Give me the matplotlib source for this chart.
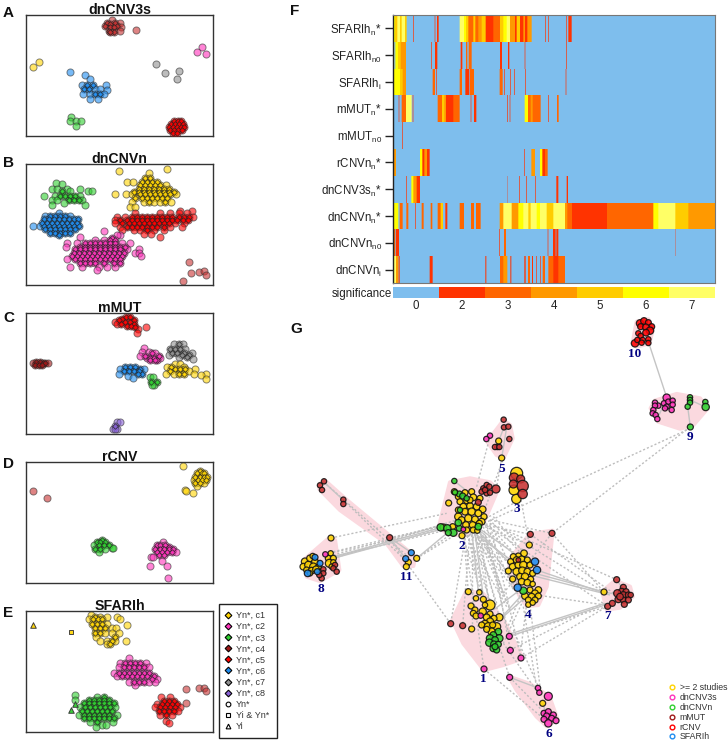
import matplotlib
matplotlib.use("Agg")
import numpy as np
import matplotlib.pyplot as plt
from matplotlib.colors import ListedColormap, BoundaryNorm
from matplotlib.lines import Line2D
from matplotlib.collections import LineCollection

plt.rcParams['font.family'] = ['Liberation Sans', 'DejaVu Sans']
plt.rcParams['mathtext.fontset'] = 'custom'
plt.rcParams['mathtext.rm'] = 'Liberation Sans'
plt.rcParams['mathtext.default'] = 'regular'

W, H = 728, 744
fig = plt.figure(figsize=(W / 100, H / 100), dpi=100)

def ax_px(x0, y0, x1, y1, **kw):
    return fig.add_axes([x0 / W, 1 - y1 / H, (x1 - x0) / W, (y1 - y0) / H], **kw)

def fig_text(x, y, s, **kw):
    return fig.text(x / W, 1 - y / H, s, **kw)

# ------------------------------------------------------------------ colours
YEL, MAG, GRN, BRN, RED, BLU, GRY, PUR = ('#FFD400', '#FF33BB', '#2FD02F', '#C83232',
                                          '#FF0000', '#1E8CF0', '#909090', '#8A62D8')
DRK = '#A01818'

# ------------------------------------------------------------------ panel data (rows: y, [x...])
A_brown = [(60, [335]), (68, [320, 345, 358]), (72, [330]), (78, [315, 350]), (82, [328, 340, 362]),
           (89, [406]), (92, [325, 360]), (96, [342, 330])]
A_magenta = [(141, [605]), (157, [591]), (162, [617])]
A_yellow = [(185, [116]), (201, [98])]
A_gray = [(192, [467]), (218, [494]), (214, [535]), (236, [531])]
A_blue = [(216, [209]), (224, [254]), (238, [268]), (254, [245, 260, 278, 318]), (266, [250, 265, 285, 300]),
          (270, [320]), (283, [248, 270, 285, 300, 310]), (296, [292, 268])]
A_green = [(350, [212]), (362, [208, 227, 243]), (378, [226])]
A_red = [(362, [520, 532, 542]), (371, [512, 524, 536, 548]), (380, [505, 518, 530, 542, 552]),
         (390, [510, 522, 534, 546]), (398, [518, 530])]

B_yellow = [(506, [501]), (512, [356]), (520, [445]), (533, [435, 450]), (547, [380, 397, 425, 440, 455, 470]),
            (556, [420, 435, 450, 465, 480, 497]), (566, [415, 430, 445, 460, 475, 490, 505]),
            (575, [400, 415, 430, 445, 460, 475, 490, 505, 520]),
            (581, [343, 378, 395, 420, 435, 450, 465, 480, 495, 510, 527]),
            (594, [405, 425, 440, 455, 470, 485, 500]), (605, [395, 430, 445, 460, 480, 495, 512]),
            (620, [388, 405])]
B_green = [(548, [166]), (552, [186]), (568, [155, 170, 200, 240]), (574, [185, 210, 263, 275]),
           (588, [130, 165, 180, 195, 210, 225, 240]), (600, [155, 170, 205, 220, 235, 245]),
           (608, [190]), (614, [155, 254])]
B_blue = [(640, [175]), (648, [135, 150, 165, 180, 195, 210]), (658, [130, 145, 160, 175, 190, 205, 220, 232]),
          (668, [125, 140, 155, 170, 185, 200, 215, 230]), (677, [98, 118, 130, 145, 160, 175, 190, 205, 220, 235]),
          (688, [135, 150, 165, 180, 195, 210, 225]), (698, [150, 165, 180, 195, 210]), (704, [175])]
B_red = [(632, [575, 540]), (640, [405, 480, 510, 535, 560]),
         (650, [350, 375, 395, 410, 425, 440, 455, 470, 485, 500, 515, 535, 550, 565, 578]),
         (660, [345, 360, 380, 395, 410, 425, 440, 455, 470, 485, 500, 515, 530, 548, 562]),
         (670, [345, 365, 385, 400, 415, 430, 445, 460, 475, 490, 505, 525, 550]),
         (680, [360, 380, 395, 410, 425, 440, 455, 470, 490, 510, 545]), (690, [365, 400, 420, 440, 460, 490]),
         (703, [432, 452]), (711, [478])]
B_magenta = [(692, [310]), (706, [360, 350]), (710, [240]), (715, [335]), (720, [285, 310, 330, 345]),
             (728, [230, 200, 255, 270, 285, 300, 315, 330, 345, 365, 388]),
             (740, [198, 240, 255, 270, 285, 300, 315, 330, 345, 360, 375]),
             (748, [225, 240, 255, 270, 285, 300, 315, 330, 345, 360, 380, 417]),
             (758, [220, 235, 250, 265, 280, 295, 310, 325, 340, 355, 370, 405, 415]),
             (768, [215, 230, 245, 260, 275, 290, 305, 320, 335, 350, 365, 422]),
             (778, [200, 225, 240, 255, 270, 285, 300, 315, 330, 345, 360]),
             (790, [240, 255, 270, 285, 310, 340, 358]), (801, [208, 245, 295, 320, 345]), (810, [290])]
B_brown = [(787, [567]), (819, [573]), (815, [595]), (813, [612]), (824, [617]), (842, [548])]

C_red = [(52, [378, 390]), (56, [365]), (60, [355, 400]), (65, [345, 375, 388]), (71, [350, 362, 400]),
         (78, [380, 392]), (82, [405, 437]), (86, [412]), (98, [410])]
C_magenta = [(145, [432]), (155, [425, 445]), (160, [455, 465]), (167, [420, 435, 475]),
             (175, [440, 450, 460, 480]), (181, [450, 470, 465])]
C_gray = [(133, [520, 535, 548]), (147, [510, 525, 540, 555]), (159, [515, 530, 552, 575]),
          (166, [505, 545, 565]), (172, [535, 560]), (178, [578])]
C_yellow = [(192, [525, 540]), (200, [512, 500, 550]), (208, [525, 540, 555, 585]), (214, [510, 565]),
            (222, [497, 520, 535, 550, 582, 617]), (226, [602]), (236, [616])]
C_blue = [(200, [375, 390, 405]), (206, [358, 420, 432]), (214, [370, 385, 400, 415]),
          (222, [355, 425, 412]), (228, [382]), (235, [398])]
C_green = [(232, [448, 458]), (246, [470, 452]), (256, [460, 455])]
C_darkred = [(185, [108, 118]), (190, [98, 128, 135, 142]), (196, [105, 115, 125])]
C_purple = [(367, [351, 360]), (378, [345]), (387, [337, 350, 345])]

D_yellow = [(499, [548]), (513, [600]), (520, [590, 605, 612]), (530, [585, 598, 610, 620]),
            (540, [580, 592, 605, 618]), (550, [585, 598, 610]), (558, [590]), (570, [553]),
            (574, [558]), (578, [578])]
D_brown = [(572, [98]), (593, [141])]
D_green = [(720, [305]), (727, [290, 300, 315]), (736, [280, 295, 310, 325]),
           (743, [335, 337]), (747, [285, 300, 315]), (755, [295])]
D_magenta = [(725, [487]), (735, [470, 480, 495]), (741, [505]), (746, [465, 478, 490, 505, 518]),
             (757, [470, 485, 500, 515, 527]), (766, [475, 490]), (772, [452, 458]), (783, [484]),
             (797, [449, 499]), (835, [503])]

E_yellow = [(945, [272]), (951, [285, 300, 320, 350]), (958, [265, 278, 292, 305, 358]),
            (971, [275, 290, 305, 320]), (976, [380]), (985, [285, 300, 315, 335, 348]),
            (998, [285, 300, 315, 335, 355]), (1010, [287, 345]), (1022, [300, 320, 335, 345, 378]),
            (1031, [320, 330])]
E_yellow_sq = [(997, [212])]
E_yellow_tri = [(975, [98])]
E_magenta = [(1075, [386]), (1089, [360, 375, 390, 405, 420, 437]), (1102, [355, 370, 385, 400, 415, 430, 445]),
             (1118, [340, 355, 370, 385, 400, 415, 430, 445]), (1129, [350, 365, 380, 395, 410, 425, 440, 460]),
             (1138, [455, 470]), (1146, [385, 400, 415, 430, 445, 465]), (1155, [405])]
E_green = [(1185, [225]), (1192, [290, 310]), (1201, [225, 265, 280, 295, 310, 325]),
           (1210, [250, 265, 280, 295, 310, 325, 340]), (1220, [240, 255, 270, 285, 300, 315, 330, 345]),
           (1232, [245, 260, 275, 290, 305, 320, 335]), (1245, [235, 250, 265, 280, 295, 310, 325, 350]),
           (1255, [250, 265, 280, 295, 310, 325, 340]), (1265, [270, 290, 338]), (1275, [305, 318]), (1282, [288])]
E_green_tri = [(1212, [225]), (1230, [212])]
E_red = [(1192, [482, 510]), (1202, [490, 505, 520]), (1212, [470, 485, 500, 515, 530]),
         (1222, [465, 480, 495, 510, 525, 540]), (1232, [475, 490, 505, 520, 533]), (1245, [478, 497, 515]),
         (1262, [497]), (1270, [507])]
E_brown = [(1163, [595, 612]), (1168, [557]), (1172, [617]), (1208, [557])]

PANELS = [
    ('A', 'dnCNV3s', 15, 136, 45, 408, 17, [(A_brown, BRN), (A_magenta, MAG), (A_yellow, YEL), (A_gray, GRY),
                                            (A_blue, BLU), (A_green, GRN), (A_red, RED)]),
    ('B', 'dnCNVn', 164, 285, 492, 855, 167, [(B_yellow, YEL), (B_green, GRN), (B_blue, BLU), (B_red, RED),
                                              (B_magenta, MAG), (B_brown, BRN)]),
    ('C', 'mMUT', 313, 434, 39, 402, 322, [(C_red, RED), (C_magenta, MAG), (C_gray, GRY), (C_yellow, YEL),
                                           (C_blue, BLU), (C_green, GRN), (C_darkred, DRK), (C_purple, PUR)]),
    ('D', 'rCNV', 462, 583, 486, 849, 468, [(D_yellow, YEL), (D_brown, BRN), (D_green, GRN), (D_magenta, MAG)]),
    ('E', 'SFARIh', 611, 732, 933, 1296, 617, [(E_yellow, YEL), (E_magenta, MAG), (E_green, GRN), (E_red, RED), (E_brown, BRN)]),
]

def expand(rows):
    return [(x, y) for y, xs in rows for x in xs]

def dots(ax, rows, color, marker='o', s=26, alpha=0.6):
    p = np.array(expand(rows), float)
    ax.scatter(p[:, 0], p[:, 1], s=s, marker=marker, color=color, alpha=alpha,
               edgecolors='#333333', linewidths=0.7, zorder=3)
    if marker == 'o' and len(p) > 5:
        # crowded points are the cluster cores: small solid diamonds on top
        d = np.hypot(*(p[:, None, :] - p[None, :, :]).transpose(2, 0, 1))
        core = (d < 20).sum(axis=1) >= 5
        if core.any():
            ax.scatter(p[core, 0], p[core, 1], s=8, marker='D', color=color, alpha=0.9,
                       edgecolors='#222222', linewidths=0.5, zorder=4)

last_ax = None
for letter, title, y0, y1, zy0, zy1, base, groups in PANELS:
    ax = ax_px(26, y0, 213, y1)
    ax.set_xlim(77, 638)
    ax.set_ylim(zy1, zy0)
    ax.set_xticks([]); ax.set_yticks([])
    for sp in ax.spines.values():
        sp.set_linewidth(1.0); sp.set_color('#333333')
    for rows, c in groups:
        dots(ax, rows, c)
    fig_text(119.5, y0 - 1, title, ha='center', va='baseline', fontsize=10.2, fontweight='bold', color='#111111')
    fig_text(3, base, letter, ha='left', va='baseline', fontsize=11, fontweight='bold', color='#111111')
    last_ax = ax

dots(last_ax, E_yellow_sq, YEL, marker='s', s=8, alpha=0.9)
dots(last_ax, E_yellow_tri, YEL, marker='^', s=16, alpha=0.95)
dots(last_ax, E_green_tri, GRN, marker='^', s=16, alpha=0.95)

# legend of panel E
E_labels = ['Yn*, c1', 'Yn*, c2', 'Yn*, c3', 'Yn*, c4', 'Yn*, c5', 'Yn*, c6', 'Yn*, c7', 'Yn*, c8',
            'Yn*', 'Yi & Yn*', 'Yi']
E_colors = [YEL, MAG, GRN, DRK, RED, BLU, GRY, PUR, 'white', 'white', 'white']
E_marks = ['D'] * 8 + ['o', 's', '^']
handles = [Line2D([], [], linestyle='none', marker=m, markersize=3.4, markerfacecolor=c,
                  markeredgecolor='black', markeredgewidth=0.8, label=l)
           for l, c, m in zip(E_labels, E_colors, E_marks)]
leg = fig.legend(handles=handles, loc='upper left', bbox_to_anchor=(219 / W, 1 - 604 / H), borderaxespad=0,
                 fontsize=6.5, labelspacing=0.23, handletextpad=0.8, handlelength=0.3, borderpad=0.8,
                 frameon=True, fancybox=False, framealpha=1)
leg.get_frame().set_edgecolor('#222222'); leg.get_frame().set_linewidth(1.0)
for t in leg.get_texts():
    t.set_color('#333333')

# ------------------------------------------------------------------ heatmap F
row_labels = ['SFARIh$_{n}$*', 'SFARIh$_{n0}$', 'SFARIh$_{i}$', 'mMUT$_{n}$*', 'mMUT$_{n0}$',
              'rCNVn$_{n}$*', 'dnCNV3s$_{n}$*', 'dnCNVn$_{n}$*', 'dnCNVn$_{n0}$', 'dnCNVn$_{i}$']
sig_labels = [0, 2, 3, 4, 5, 6, 7]
SFARIh_n = [(309, 315, 6), (315, 322, 5), (322, 330, 7), (330, 335, 5), (335, 345, 7), (345, 350, 5), (370, 372, 2),
            (434, 436, 2), (441, 446, 2), (509, 522, 7), (522, 528, 6), (528, 535, 5), (535, 550, 3), (550, 556, 5),
            (556, 565, 3), (565, 575, 4), (575, 587, 5), (587, 610, 2), (610, 630, 3), (630, 640, 5), (640, 650, 6),
            (650, 660, 7), (660, 675, 4), (675, 680, 2), (680, 690, 5), (690, 700, 2), (700, 705, 4), (705, 712, 2),
            (712, 725, 4), (766, 768, 2), (774, 776, 2), (828, 830, 2), (835, 845, 2)]
SFARIh_n0 = [(310, 313, 7), (316, 324, 6), (324, 332, 5), (332, 348, 4), (424, 426, 2), (435, 442, 2), (512, 517, 2),
             (528, 532, 3), (536, 545, 3), (630, 636, 2), (654, 658, 2), (704, 706, 2), (829, 831, 2)]
SFARIh_i = [(312, 330, 6), (330, 338, 5), (338, 348, 4), (428, 435, 3), (439, 441, 2), (509, 516, 3), (526, 538, 2),
            (540, 552, 3), (629, 638, 3), (642, 644, 2), (660, 662, 2), (672, 674, 2), (705, 707, 2), (827, 829, 2)]
mMUT_n = [(326, 328, 2), (335, 348, 3), (348, 365, 7), (368, 370, 2), (443, 456, 3), (456, 463, 5), (463, 468, 4),
          (468, 490, 2), (490, 509, 3), (542, 544, 2), (552, 559, 2), (652, 654, 2), (659, 661, 2), (704, 714, 6),
          (714, 722, 3), (722, 728, 4), (728, 752, 3), (774, 776, 2), (801, 806, 3)]
mMUT_n0 = [(337, 339, 2)]
rCNVn_n = [(312, 318, 4), (390, 397, 6), (397, 403, 2), (403, 411, 4), (411, 419, 2), (703, 705, 2), (724, 735, 4),
           (750, 757, 6), (757, 765, 2), (765, 773, 3)]
dnCNV3s_n = [(349, 351, 2), (364, 370, 6), (370, 380, 4), (380, 390, 2), (652, 653, 2), (687, 689, 2), (709, 711, 2),
             (736, 738, 2), (799, 805, 2), (830, 834, 2)]
dnCNVn_n = [(312, 325, 6), (329, 338, 3), (349, 355, 3), (376, 378, 2), (395, 401, 3), (422, 427, 3), (443, 452, 3),
            (452, 459, 5), (466, 472, 2), (509, 522, 3), (543, 552, 3), (558, 572, 3), (629, 640, 4), (640, 665, 7),
            (665, 685, 4), (685, 700, 6), (700, 715, 7), (715, 722, 5), (722, 740, 7), (740, 750, 6), (750, 770, 7),
            (770, 790, 5), (790, 825, 7), (825, 832, 4), (832, 846, 3), (846, 951, 2), (951, 1090, 3), (1090, 1105, 6),
            (1105, 1156, 7), (1156, 1195, 5), (1195, 1275, 4)]
dnCNVn_n0 = [(312, 316, 3), (318, 327, 2), (628, 630, 2), (642, 648, 3), (773, 775, 2), (789, 797, 2), (799, 805, 2),
             (1156, 1157, 2)]
dnCNVn_i = [(310, 318, 7), (318, 325, 4), (326, 329, 2), (419, 428, 2), (586, 589, 2), (630, 640, 3), (640, 652, 4),
            (661, 664, 2), (703, 707, 2), (714, 720, 3), (726, 729, 2), (738, 740, 2), (751, 753, 2), (758, 765, 3),
            (775, 790, 3), (790, 805, 2), (805, 825, 3)]
heat_rows = [SFARIh_n, SFARIh_n0, SFARIh_i, mMUT_n, mMUT_n0, rCNVn_n, dnCNV3s_n, dnCNVn_n, dnCNVn_n0, dnCNVn_i]

cmap = ListedColormap(['#7EBEEE', '#FF0000', '#FF3300', '#FF6600', '#FF9900', '#FFCC00', '#FFFF00', '#FFFF66'])
norm = BoundaryNorm(np.arange(-0.5, 8.5), 8)
M = np.zeros((len(heat_rows), 1275 - 309), int)
for i, segs in enumerate(heat_rows):
    for a, b, v in segs:
        M[i, a - 309:b - 309] = v
# thin columns blend with their neighbours at the picture's resolution: average colours over 3 columns
rgb = cmap(norm(M))[:, :, :3]
rgb = rgb.reshape(10, 322, 3, 3).mean(axis=2)

axF = ax_px(393, 15, 715, 283)
axF.imshow(rgb, aspect='auto', extent=(309, 1275, 10, 0), interpolation='nearest')
axF.set_xticks([])
axF.set_yticks(np.arange(10) + 0.5)
axF.set_yticklabels(row_labels, fontsize=8.3, color='#222222')
axF.tick_params(axis='y', length=6, width=1, color='#222222', pad=2)
for sp in axF.spines.values():
    sp.set_linewidth(0.8); sp.set_color('#777777')
axF.spines['left'].set_color('#222222')
axF.spines['left'].set_linewidth(1.0)
fig_text(290, 15, 'F', ha='left', va='baseline', fontsize=11, fontweight='bold', color='#111111')

axC = ax_px(393, 287, 715, 298)
axC.imshow(np.array([sig_labels]), cmap=cmap, norm=norm, aspect='auto', interpolation='nearest')
axC.set_yticks([0]); axC.set_yticklabels(['significance'], fontsize=8.3, color='#222222')
axC.set_xticks(np.arange(7)); axC.set_xticklabels(sig_labels, fontsize=8.3, color='#222222')
axC.tick_params(axis='y', length=0, pad=0.5)
axC.tick_params(axis='x', length=0, pad=1.5)
for sp in axC.spines.values():
    sp.set_visible(False)

# ------------------------------------------------------------------ network G
axG = ax_px(290, 310, 728, 744)
axG.set_xlim(0, 1314); axG.set_ylim(1302, 0)
axG.axis('off')
fig_text(290, 333, 'G', ha='left', va='baseline', fontsize=11, fontweight='bold', color='#111111')

G_hulls = [
    [(1028, 100), (1040, 35), (1075, 28), (1088, 60), (1078, 100), (1040, 110)],
    [(1082, 295), (1095, 272), (1160, 252), (1230, 265), (1253, 295), (1210, 345), (1170, 356), (1105, 335)],
    [(592, 395), (640, 332), (660, 345), (668, 385), (640, 445), (620, 435)],
    [(447, 650), (480, 517), (540, 505), (600, 517), (623, 540), (580, 640), (520, 678), (470, 670)],
    [(88, 522), (105, 512), (170, 570), (375, 740), (370, 768), (340, 768), (290, 700), (150, 600), (88, 537)],
    [(42, 750), (120, 682), (135, 690), (148, 780), (90, 813), (50, 800)],
    [(657, 750), (720, 672), (788, 662), (770, 830), (745, 885), (710, 888), (690, 860), (660, 800)],
    [(937, 845), (975, 812), (1020, 830), (1028, 860), (990, 893), (950, 898)],
    [(487, 930), (530, 842), (580, 852), (640, 930), (698, 1045), (640, 1065), (582, 1080), (520, 1000)],
    [(657, 1100), (720, 1122), (778, 1160), (803, 1230), (770, 1248), (740, 1220), (680, 1140)],
]
G_dashed = [
    (123, 684, 470, 610), (130, 725, 450, 650), (130, 745, 500, 630), (105, 733, 445, 660), (380, 745, 520, 660),
    (350, 765, 530, 640), (299, 683, 500, 640), (160, 570, 345, 750), (100, 515, 360, 745),
    (560, 530, 600, 380), (580, 610, 640, 445), (635, 445, 620, 530),
    (1200, 351, 786, 670), (1190, 360, 560, 650), (786, 670, 640, 850), (693, 570, 718, 705), (680, 575, 560, 640),
    (530, 660, 482, 941), (540, 660, 518, 947), (545, 660, 545, 957), (520, 660, 535, 845), (530, 650, 568, 847),
    (540, 650, 580, 868), (550, 650, 600, 885), (555, 650, 628, 922), (565, 655, 660, 900), (570, 650, 610, 1000),
    (580, 650, 658, 979), (590, 640, 661, 1021), (520, 660, 582, 1077), (600, 640, 693, 1044), (515, 670, 659, 1102),
    (560, 640, 721, 673), (600, 630, 786, 670), (585, 650, 718, 705), (590, 660, 680, 740), (580, 670, 670, 780),
    (600, 650, 700, 760), (610, 620, 720, 750), (590, 620, 740, 780), (570, 670, 683, 833), (565, 680, 700, 842),
    (560, 680, 715, 880), (540, 670, 690, 860), (600, 640, 980, 809), (640, 660, 942, 846), (580, 640, 953, 889),
    (690, 860, 650, 960), (700, 870, 640, 1000), (710, 880, 690, 1040), (720, 885, 750, 1130), (700, 890, 740, 1135),
    (670, 960, 745, 1130), (640, 1000, 745, 1150), (582, 1077, 760, 1225), (659, 1102, 770, 1215),
    (740, 855, 945, 885), (693, 1044, 950, 890), (658, 979, 953, 889), (721, 673, 985, 860), (786, 670, 942, 846),
    (482, 941, 300, 690), (660, 1020, 940, 880), (650, 890, 520, 660), (620, 880, 550, 660), (600, 870, 530, 670),
    (560, 670, 640, 860), (575, 665, 650, 880), (600, 670, 670, 840), (585, 680, 640, 850), (610, 660, 690, 830),
    (130, 735, 470, 640), (110, 745, 470, 660),
]
G_solid = [
    (1075, 95, 1130, 262), (380, 745, 470, 670), (130, 745, 445, 660), (130, 740, 445, 655), (660, 770, 940, 845),
    (740, 780, 945, 850), (700, 790, 960, 855), (660, 972, 945, 880), (670, 975, 945, 885), (640, 920, 720, 850),
    (600, 960, 700, 850), (610, 900, 690, 840), (540, 660, 690, 770), (560, 650, 700, 750), (570, 670, 660, 760),
    (545, 660, 565, 845), (555, 670, 580, 860), (100, 515, 160, 570), (299, 683, 347, 746), (299, 683, 364, 728),
    (942, 846, 990, 855), (980, 809, 1000, 840), (659, 1102, 744, 1134), (758, 1180, 770, 1215), (642, 352, 626, 393),
    (650, 352, 635, 444), (1200, 270, 1247, 291), (1193, 290, 1201, 351), (1130, 263, 1102, 327), (493, 513, 540, 550),
]
# (x, y, diameter) of each node, per colour
G_yellow = [
    (476, 579, 14), (493, 545, 14), (516, 677, 14), (460, 652, 16), (505, 560, 14), (525, 548, 14), (545, 545, 14),
    (510, 575, 14), (530, 572, 14), (550, 562, 16), (570, 565, 14), (520, 590, 16), (540, 588, 16), (560, 590, 16),
    (578, 598, 16), (505, 620, 18), (525, 605, 16), (545, 605, 18), (565, 610, 16), (582, 620, 14), (515, 630, 16),
    (535, 625, 18), (555, 628, 16), (575, 635, 16), (528, 645, 16), (548, 645, 16), (568, 640, 14), (488, 650, 14),
    (530, 660, 14), (550, 660, 14), (562, 662, 12), (540, 570, 14), (505, 600, 14),
    (680, 490, 32), (672, 540, 26), (679, 567, 24),
    (123, 684, 14), (122, 730, 12), (115, 745, 14), (130, 745, 14), (118, 760, 20), (130, 757, 12), (125, 770, 12),
    (45, 755, 18), (60, 745, 16), (75, 755, 16), (40, 770, 16), (55, 765, 18), (70, 770, 18), (85, 772, 14),
    (50, 780, 14), (65, 782, 16), (78, 778, 16), (60, 790, 12), (68, 738, 12),
    (380, 745, 14), (355, 757, 14), (349, 770, 14), (626, 393, 14), (635, 444, 14), (718, 705, 14), (942, 846, 14),
    (702, 730, 16), (685, 738, 14), (670, 740, 14), (662, 755, 14), (680, 750, 16), (695, 748, 16), (712, 750, 14),
    (668, 770, 16), (685, 765, 16), (700, 765, 18), (720, 765, 14), (655, 783, 14), (680, 785, 18), (697, 782, 18),
    (712, 785, 16), (728, 790, 14), (690, 800, 16), (705, 800, 18), (722, 808, 14), (668, 807, 14), (695, 815, 16),
    (712, 818, 16), (728, 822, 12), (720, 840, 14), (745, 840, 16), (735, 850, 16), (705, 858, 16), (725, 860, 16),
    (745, 858, 14), (715, 870, 14), (735, 870, 14), (715, 884, 12), (728, 878, 12),
    (535, 845, 14), (568, 847, 12), (558, 865, 12), (580, 868, 14), (600, 885, 26), (543, 888, 14), (585, 885, 12),
    (555, 900, 14), (550, 910, 14), (558, 918, 14), (578, 905, 18), (600, 912, 14), (590, 922, 16), (628, 922, 18),
    (612, 925, 14), (600, 935, 18), (585, 942, 18), (575, 945, 14), (595, 950, 20), (620, 950, 20), (608, 945, 14),
    (545, 957, 14), (605, 965, 18), (590, 958, 14), (758, 1180, 14),
]
G_green = [
    (508, 552, 14), (518, 558, 14), (530, 565, 12), (495, 547, 12), (493, 513, 12), (452, 652, 18), (472, 655, 18),
    (490, 668, 18), (508, 655, 14), (505, 638, 16), (565, 650, 16), (510, 600, 12), (475, 668, 14),
    (1200, 262, 12), (1200, 270, 12), (1200, 278, 12), (1193, 290, 12), (1246, 276, 12), (1247, 291, 18), (1201, 351, 14),
    (700, 842, 18), (625, 965, 16), (610, 975, 16), (600, 985, 18), (628, 985, 18), (615, 990, 16), (598, 998, 18),
    (612, 1003, 16), (625, 1003, 14), (610, 1015, 16), (620, 1020, 14), (615, 1010, 14),
]
G_magenta = [
    (520, 658, 10), (1130, 263, 18), (1095, 278, 12), (1105, 287, 12), (1095, 287, 12), (1122, 280, 12), (1135, 275, 12),
    (1148, 272, 12), (1148, 284, 12), (1130, 290, 12), (1145, 300, 12), (1125, 295, 12), (1090, 300, 12), (1088, 310, 12),
    (1097, 315, 12), (1102, 327, 12), (600, 377, 12), (589, 387, 12), (622, 411, 12), (106, 733, 12), (658, 979, 14),
    (661, 1021, 14), (693, 1044, 14), (582, 1077, 14), (659, 1102, 14), (744, 1134, 12), (748, 1148, 12), (775, 1159, 20),
    (762, 1210, 14), (775, 1205, 14), (790, 1215, 14), (770, 1218, 14), (785, 1225, 14), (798, 1232, 14), (762, 1228, 14),
    (775, 1240, 18), (572, 917, 12),
]
G_brown = [
    (565, 577, 14), (580, 535, 12), (590, 525, 12), (598, 530, 12), (575, 545, 12), (590, 550, 12), (600, 548, 12),
    (618, 537, 20), (585, 540, 12), (641, 329, 12), (642, 352, 12), (655, 350, 12), (658, 387, 12), (615, 411, 12),
    (628, 411, 12), (102, 514, 12), (90, 526, 12), (96, 540, 12), (160, 569, 12), (160, 582, 12), (299, 683, 14),
    (135, 765, 12), (130, 775, 12), (140, 785, 12), (100, 778, 12), (100, 790, 12), (95, 805, 12), (88, 795, 12),
    (721, 673, 14), (786, 670, 14), (685, 750, 10), (482, 941, 14), (518, 947, 14),
    (672, 503, 24), (692, 507, 20), (698, 528, 30), (670, 522, 20), (698, 552, 24),
    (980, 809, 14), (953, 889, 14), (967, 880, 14), (1000, 832, 14), (995, 845, 16), (1008, 845, 14), (982, 850, 18),
    (1000, 855, 16), (1015, 855, 14), (1022, 855, 12), (985, 868, 16), (1000, 870, 14), (1015, 870, 14), (1003, 883, 14),
    (990, 860, 16),
]
G_red = [
    (1050, 40, 18), (1062, 33, 16), (1075, 38, 14), (1085, 50, 14), (1052, 50, 14), (1068, 52, 16), (1080, 62, 18),
    (1068, 68, 16), (1045, 70, 12), (1052, 78, 12), (1035, 100, 18), (1042, 90, 12), (1058, 90, 12), (1075, 88, 12),
    (1075, 99, 12), (1055, 98, 12),
]
G_blue = [
    (75, 742, 14), (90, 760, 14), (53, 790, 16), (82, 785, 14), (364, 728, 14), (347, 746, 14), (735, 755, 18),
    (741, 780, 18), (683, 833, 18),
]
G_node_sets = [(G_yellow, YEL), (G_green, GRN), (G_magenta, MAG), (G_brown, BRN), (G_red, RED), (G_blue, BLU)]
G_cluster_ids = ['1', '2', '3', '4', '5', '6', '7', '8', '9', '10', '11']
G_cluster_xy = [(581, 1108), (515, 709), (679, 598), (714, 916), (635, 476), (775, 1271), (953, 919),
                (94, 836), (1201, 381), (1033, 132), (349, 801)]

for h in G_hulls:
    axG.fill(*zip(*h), facecolor='#FBD9DF', edgecolor='#FBD9DF', linewidth=3, joinstyle='round', zorder=1)
segs = [[(a, b), (c, d)] for a, b, c, d in G_dashed]
axG.add_collection(LineCollection(segs, colors='#BDBDBD', linewidths=1.0, linestyles=(0, (1.5, 1.5)), zorder=2))
segs = [[(a, b), (c, d)] for a, b, c, d in G_solid]
axG.add_collection(LineCollection(segs, colors='#C4C4C4', linewidths=1.0, zorder=2))
for nodes, c in G_node_sets:
    n = np.array(nodes, float)
    axG.scatter(n[:, 0], n[:, 1], s=((n[:, 2] + 4) / 3 * 0.72) ** 2, color=c, edgecolors='#111111', linewidths=0.9,
                alpha=0.88, zorder=3)
for lab, (x, y) in zip(G_cluster_ids, G_cluster_xy):
    axG.text(x, y, lab, ha='center', va='center', fontsize=9.5, fontweight='bold', family='Liberation Serif',
             color='#000080', zorder=5)

G_legend_labels = ['>= 2 studies', 'dnCNV3s', 'dnCNVn', 'mMUT', 'rCNV', 'SFARIh']
G_legend_colors = [YEL, MAG, GRN, DRK, RED, BLU]
hG = [Line2D([], [], linestyle='none', marker='o', markersize=3.4, markerfacecolor='white', markeredgecolor=c,
             markeredgewidth=1.0, label=l) for l, c in zip(G_legend_labels, G_legend_colors)]
legG = axG.legend(handles=hG, loc='upper left', bbox_to_anchor=(665 / W, 1 - 683.5 / H), bbox_transform=fig.transFigure,
                  borderaxespad=0, frameon=False, fontsize=6.3, labelspacing=0.09, handletextpad=0.1,
                  handlelength=1.6, borderpad=0)
for t in legG.get_texts():
    t.set_color('#333333')

fig.savefig('out.png', dpi=100)
